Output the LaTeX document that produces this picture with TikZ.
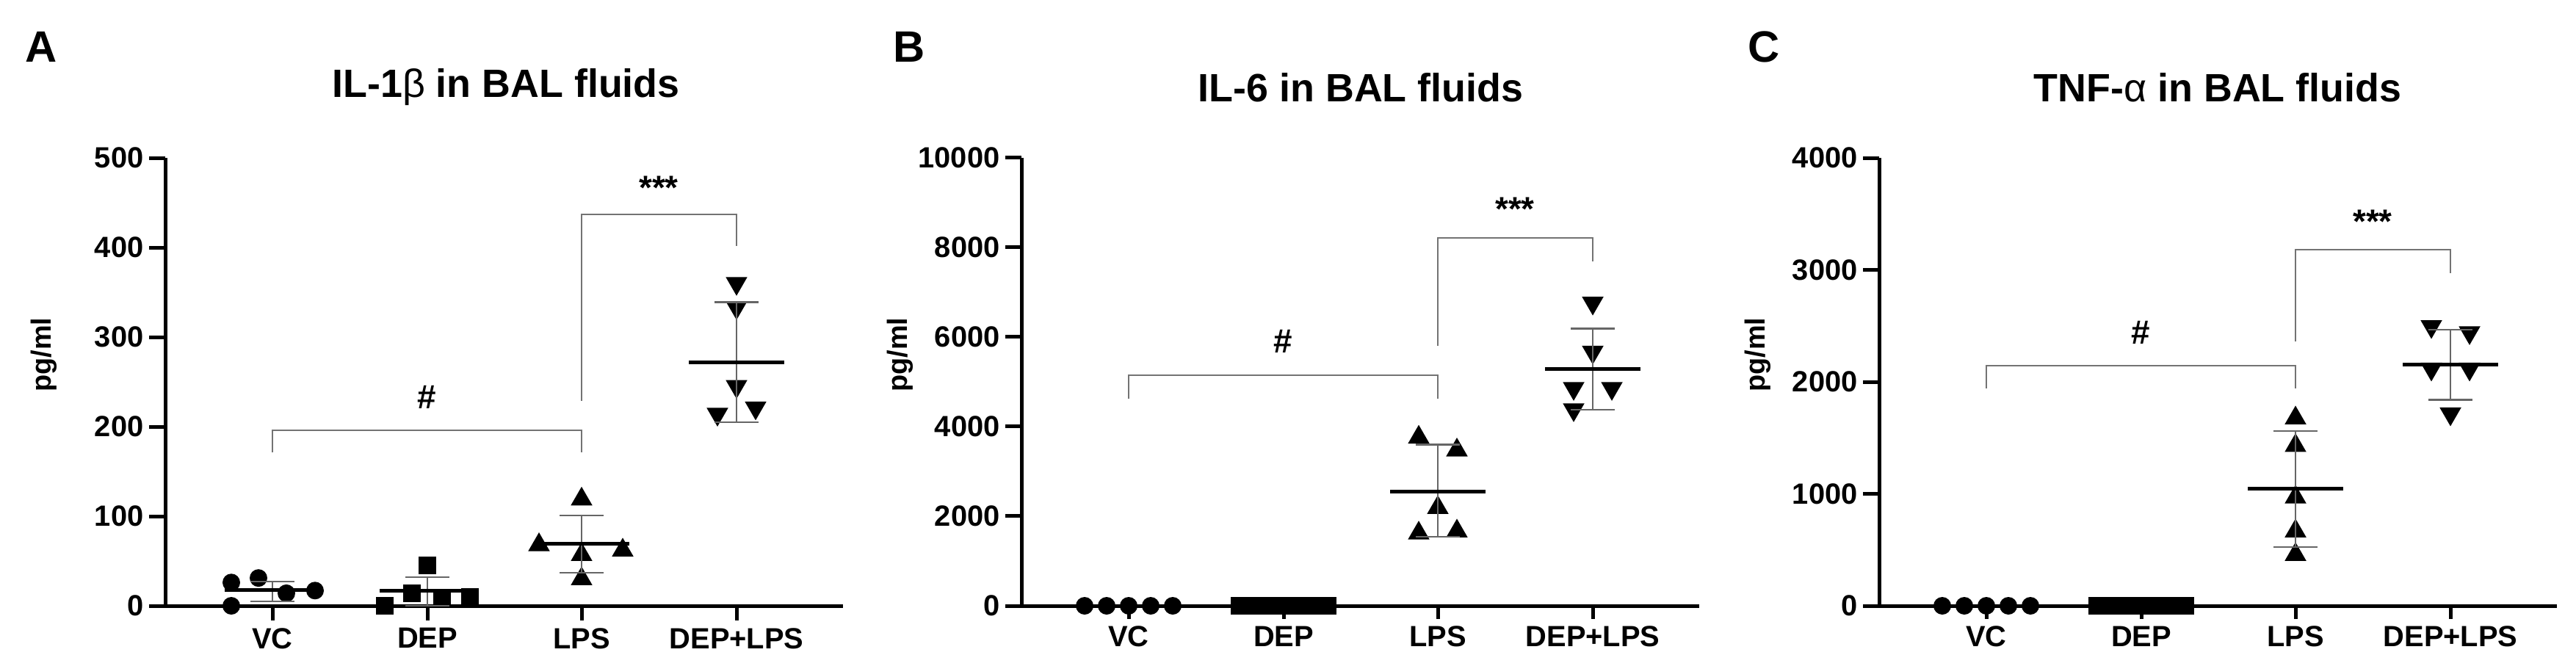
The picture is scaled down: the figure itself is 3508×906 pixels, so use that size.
\documentclass[tikz,border=0pt]{standalone}
\usepackage{fontspec}
\setmainfont{Liberation Sans}
\usetikzlibrary{shapes.geometric}
\newcommand{\errbar}[4]{% cx mean hi lo
 \draw[errl] (#1,#4) -- (#1,#3);
 \draw[errl] (#1-30,#3) -- (#1+30,#3);
 \draw[errl] (#1-30,#4) -- (#1+30,#4);
 \draw[meanl] (#1-65,#2) -- (#1+65,#2);}
\begin{document}
\begin{tikzpicture}[x=1bp,y=-1bp,font=\bfseries,
 axl/.style={line width=5bp,black},
 brk/.style={line width=2bp,black!55},
 errl/.style={line width=2.5bp,black!60},
 meanl/.style={line width=5bp,black},
 dotm/.style={circle,fill=black,inner sep=0,minimum size=24bp},
 sqm/.style={rectangle,fill=black,inner sep=0,minimum size=24bp},
 upm/.style={regular polygon,regular polygon sides=3,fill=black,inner sep=0,minimum size=34bp},
 dnm/.style={regular polygon,regular polygon sides=3,shape border rotate=180,fill=black,inner sep=0,minimum size=34bp},
 tick/.style={font=\fontsize{40}{44}\bfseries\selectfont,anchor=east},
 cat/.style={font=\fontsize{40}{44}\bfseries\selectfont,anchor=north},
 ttl/.style={font=\fontsize{54}{60}\bfseries\selectfont},
 lett/.style={font=\fontsize{60}{66}\bfseries\selectfont},
 sig/.style={font=\fontsize{46}{50}\bfseries\selectfont}]
\useasboundingbox[fill=white] (0,0) rectangle (3508,906);
% ================= Panel A
\node[lett] (la) at (56,64) {A};
\node[ttl] (ta) at (689,119) {IL-1{\mdseries β} in BAL fluids};
\node[font=\fontsize{38}{40}\bfseries\selectfont,rotate=90] (ya) at (60,483) {pg/ml};
\begin{scope}[shift={(225,825)},yscale=-1.22]
 \draw[axl] (0,0) -- (0,500);
 \draw[axl] (-22,0) -- (923,0);
 \foreach \v in {0,100,...,500}{\draw[axl] (-22,\v) -- (0,\v); \node[tick] at (-26,\v) {\v};}
 \foreach \c/\t in {146/VC,357/DEP,567/LPS,778/DEP+LPS}{\draw[axl] (\c,0) -- (\c,-16); \node[cat] at (\c,-22) {\t};}
 \foreach \dx/\v in {-56/26,-19/31,19/14,58/17,-56/0}{\node[dotm] at (146+\dx,\v) {};}
 \errbar{146}{18}{27}{5}
 \foreach \dx/\v in {-58/0,-21/14,0/45,20/7,58/10}{\node[sqm] at (357+\dx,\v) {};}
 \errbar{357}{17}{32}{0}
 \foreach \dx/\v in {0/119,-58/68,0/57,56/62,0/30}{\node[upm] at (567+\dx,\v) {};}
 \errbar{567}{69}{101}{37}
 \foreach \dx/\v in {0/360,0/333,0/245,-26/214,26/221}{\node[dnm] at (778+\dx,\v) {};}
 \errbar{778}{272}{339}{205}
 \draw[brk] (146,171) -- (146,196) -- (567,196) -- (567,171);
 \node[sig] (ha) at (356,233) {\#};
 \draw[brk] (567,229) -- (567,437) -- (778,437) -- (778,402);
 \node[sig] (sa) at (672,467) {***};
\end{scope}
% ================= Panel B
\node[lett] (lb) at (1238,64) {B};
\node[ttl] (tb) at (1853,119) {IL-6 in BAL fluids};
\node[font=\fontsize{38}{40}\bfseries\selectfont,rotate=90] (yb) at (1226,483) {pg/ml};
\begin{scope}[shift={(1391,825)},yscale=-0.061]
 \draw[axl] (0,0) -- (0,10000);
 \draw[axl] (-22,0) -- (923,0);
 \foreach \v in {0,2000,...,10000}{\draw[axl] (-22,\v) -- (0,\v); \node[tick] at (-26,\v) {\v};}
 \foreach \c/\t in {146/VC,357/DEP,567/LPS,778/DEP+LPS}{\draw[axl] (\c,0) -- (\c,-300); \node[cat] at (\c,-400) {\t};}
 \foreach \dx in {-60,-30,0,30,60}{\node[dotm] at (146+\dx,0) {};}
 \foreach \dx in {-60,-36,-12,12,36,60}{\node[sqm] at (357+\dx,0) {};}
 \errbar{146}{0}{0}{0}
 \errbar{357}{0}{0}{0}
 \foreach \dx/\v in {-26/3760,26/3475,0/2190,-26/1620,26/1665}{\node[upm] at (567+\dx,\v) {};}
 \errbar{567}{2550}{3600}{1540}
 \foreach \dx/\v in {0/6760,0/5665,-26/4855,26/4855,-26/4380}{\node[dnm] at (778+\dx,\v) {};}
 \errbar{778}{5285}{6190}{4380}
 \draw[brk] (146,4620) -- (146,5140) -- (567,5140) -- (567,4620);
 \node[sig] (hb) at (356,5900) {\#};
 \draw[brk] (567,5810) -- (567,8215) -- (778,8215) -- (778,7690);
 \node[sig] (sb) at (672,8850) {***};
\end{scope}
% ================= Panel C
\node[lett] (lc) at (2402,64) {C};
\node[ttl] (tc) at (3020,119) {TNF-{\mdseries α} in BAL fluids};
\node[font=\fontsize{38}{40}\bfseries\selectfont,rotate=90] (yc) at (2394,483) {pg/ml};
\begin{scope}[shift={(2559,825)},yscale=-0.1525]
 \draw[axl] (0,0) -- (0,4000);
 \draw[axl] (-22,0) -- (923,0);
 \foreach \v in {0,1000,...,4000}{\draw[axl] (-22,\v) -- (0,\v); \node[tick] at (-26,\v) {\v};}
 \foreach \c/\t in {146/VC,357/DEP,567/LPS,778/DEP+LPS}{\draw[axl] (\c,0) -- (\c,-120); \node[cat] at (\c,-160) {\t};}
 \foreach \dx in {-60,-30,0,30,60}{\node[dotm] at (146+\dx,0) {};}
 \foreach \dx in {-60,-36,-12,12,36,60}{\node[sqm] at (357+\dx,0) {};}
 \errbar{146}{0}{0}{0}
 \errbar{357}{0}{0}{0}
 \foreach \v in {1676,1430,970,667,457}{\node[upm] at (567,\v) {};}
 \errbar{567}{1048}{1562}{526}
 \foreach \dx/\v in {-26/2495,26/2440,-26/2115,26/2115,0/1715}{\node[dnm] at (778+\dx,\v) {};}
 \errbar{778}{2153}{2465}{1840}
 \draw[brk] (146,1943) -- (146,2145) -- (567,2145) -- (567,1943);
 \node[sig] (hc) at (356,2440) {\#};
 \draw[brk] (567,2362) -- (567,3181) -- (778,3181) -- (778,2972);
 \node[sig] (sc) at (672,3429) {***};
\end{scope}
\end{tikzpicture}
\end{document}
